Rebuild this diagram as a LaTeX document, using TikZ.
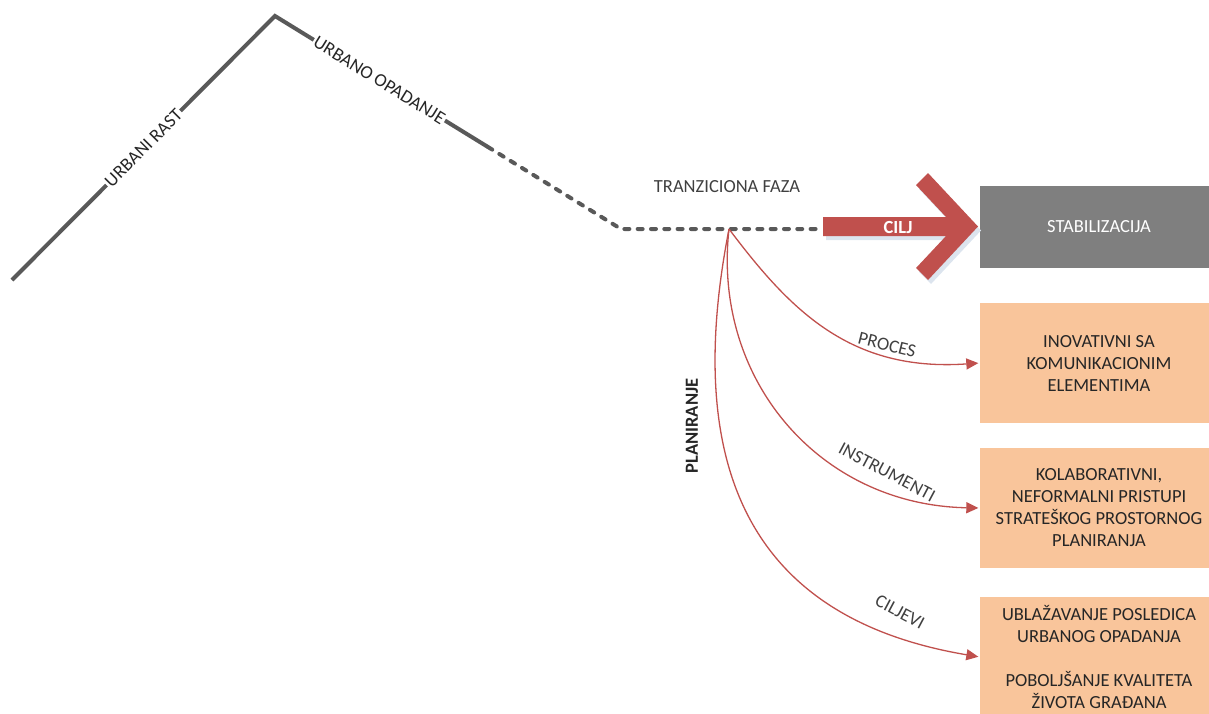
\documentclass[tikz,border=0pt]{standalone}
\usepackage{fontspec}
\setmainfont{Carlito}
\usetikzlibrary{arrows.meta}
\definecolor{linegray}{HTML}{595959}
\definecolor{accred}{HTML}{C0504D}
\definecolor{boxorange}{HTML}{F9C59B}
\definecolor{boxgray}{HTML}{7F7F7F}
\definecolor{txt}{HTML}{262626}
\definecolor{lbl}{HTML}{404040}
\definecolor{shadowblue}{HTML}{DCE4EE}
\begin{document}
\begin{tikzpicture}[x=1pt,y=-1pt,
  font=\fontsize{18.5}{22}\selectfont,
  trend/.style={draw=linegray, line width=4pt},
  trenddash/.style={draw=linegray, line width=4pt, line cap=round, dash pattern=on 5pt off 8.3pt},
  trendlabel/.style={sloped, fill=white, inner sep=1.5pt, text=txt},
  infobox/.style={fill=boxorange, minimum width=238pt, minimum height=120pt, align=center, text=txt, inner sep=0pt},
  planarrow/.style={draw=accred, line width=1.3pt, -{Triangle[length=12pt,width=11pt]}, shorten >=1.5pt},
  curvelabel/.style={text=lbl, inner sep=1pt}]
\useasboundingbox (0,0) rectangle (1209,713);

% boxes
\node[fill=boxgray, minimum width=238pt, minimum height=82pt, text=white, inner sep=0pt] (stab) at (1099,227) {STABILIZACIJA};
\node[infobox] (inov) at (1099,363) {INOVATIVNI SA\\KOMUNIKACIONIM\\ELEMENTIMA};
\node[infobox] (kolab) at (1099,508) {KOLABORATIVNI,\\NEFORMALNI PRISTUPI\\STRATEŠKOG PROSTORNOG\\PLANIRANJA};
\node[infobox] (ublaz) at (1099,657) {UBLAŽAVANJE POSLEDICA\\URBANOG OPADANJA\\[22pt]POBOLJŠANJE KVALITETA\\ŽIVOTA GRAĐANA};

% trend line
\coordinate (start) at (12,280);
\coordinate (peak) at (275,16);
\coordinate (brk) at (488,147);
\coordinate (corner) at (621,229);
\coordinate (o) at (729,229);
\coordinate (dend) at (818,229);
\draw[trend] (start) -- node[trendlabel, pos=0.5] {URBANI RAST} (peak)
  -- node[trendlabel, pos=0.49] {URBANO OPADANJE} (brk);
\draw[trenddash] (brk) -- (corner) -- (o) -- (dend);

\node[text=lbl] (tranz) at (727,187) {TRANZICIONA FAZA};

% goal arrow
\fill[shadowblue, shift={(3,4)}] (823,217) -- (946,217) -- (916,185) -- (928,173) -- (978,226.5) -- (928,280) -- (916,268) -- (946,236) -- (823,236) -- cycle;
\fill[accred] (823,217) -- (946,217) -- (916,185) -- (928,173) -- (978,226.5) -- (928,280) -- (916,268) -- (946,236) -- (823,236) -- cycle;
\node[text=white, font=\fontsize{18.5}{22}\selectfont\bfseries] (cilj) at (898,227) {CILJ};

% planning curves
\draw[planarrow] (o) .. controls (790,310) and (850,372) .. (inov.west);
\draw[planarrow] (o) .. controls (712,380) and (820,505) .. (kolab.west);
\draw[planarrow] (o) .. controls (680,480) and (760,620) .. (ublaz.west);

\node[curvelabel, rotate=-14] (proces) at (887,345) {PROCES};
\node[curvelabel, rotate=-28] (instr) at (887,472) {INSTRUMENTI};
\node[curvelabel, rotate=-28] (ciljevi) at (900,612) {CILJEVI};
\node[text=txt, rotate=90, font=\fontsize{18.5}{22}\selectfont\bfseries] (plan) at (692,426) {PLANIRANJE};
\end{tikzpicture}
\end{document}
